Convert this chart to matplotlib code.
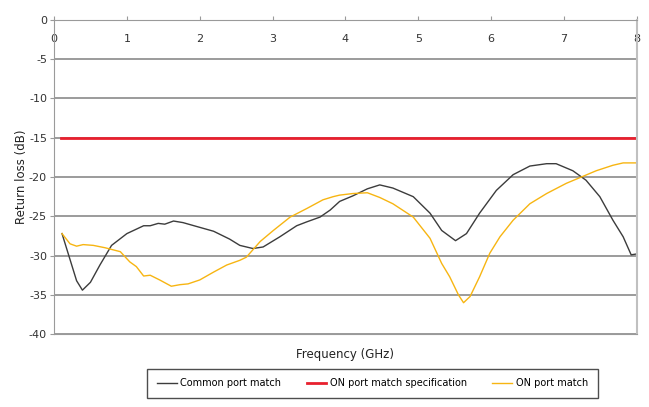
import numpy as np
import matplotlib
matplotlib.use('Agg')
import matplotlib.pyplot as plt

plt.rcParams['font.family'] = ['DejaVu Sans Condensed', 'Liberation Sans Narrow', 'DejaVu Sans']
plt.rcParams['axes.unicode_minus'] = False

# Common port match (GHz, dB)
com_f = [0.11, 0.22, 0.31, 0.39, 0.5, 0.63, 0.79, 1.0, 1.23, 1.32, 1.43, 1.52, 1.64,
         1.77, 1.96, 2.19, 2.41, 2.55, 2.73, 2.87, 3.1, 3.33, 3.47, 3.65, 3.79,
         3.92, 4.1, 4.3, 4.47, 4.65, 4.93, 5.16, 5.32, 5.51, 5.66, 5.84, 6.07,
         6.3, 6.53, 6.76, 6.89, 7.12, 7.3, 7.49, 7.67, 7.81, 7.92, 7.99]
com_db = [-27.2, -30.5, -33.2, -34.4, -33.4, -31.2, -28.7, -27.2, -26.2, -26.2, -25.9,
          -26.0, -25.6, -25.8, -26.3, -26.9, -27.9, -28.7, -29.1, -28.9, -27.6,
          -26.2, -25.7, -25.1, -24.2, -23.1, -22.4, -21.5, -21.0, -21.4, -22.5,
          -24.6, -26.8, -28.1, -27.2, -24.6, -21.7, -19.7, -18.6, -18.3, -18.3,
          -19.2, -20.4, -22.5, -25.5, -27.6, -29.9, -29.8]

# ON port match
on_f = [0.11, 0.22, 0.31, 0.4, 0.54, 0.7, 0.91, 1.04, 1.13, 1.23, 1.32, 1.45, 1.61,
        1.73, 1.84, 2.0, 2.19, 2.37, 2.55, 2.64, 2.83, 3.01, 3.24, 3.47, 3.69,
        3.83, 3.92, 4.1, 4.3, 4.47, 4.65, 4.93, 5.16, 5.32, 5.43, 5.55, 5.62,
        5.71, 5.84, 5.98, 6.12, 6.3, 6.53, 6.76, 7.03, 7.21, 7.44, 7.67, 7.81, 7.99]
on_db = [-27.2, -28.5, -28.8, -28.6, -28.7, -29.0, -29.5, -30.8, -31.4, -32.6, -32.5,
         -33.1, -33.9, -33.7, -33.6, -33.1, -32.1, -31.2, -30.6, -30.2, -28.2,
         -26.8, -25.1, -24.0, -22.9, -22.5, -22.3, -22.1, -22.0, -22.6, -23.4,
         -25.1, -27.8, -31.0, -32.7, -35.0, -36.0, -35.2, -32.7, -29.7, -27.6,
         -25.5, -23.4, -22.1, -20.8, -20.1, -19.2, -18.5, -18.2, -18.2]

spec_f = [0.1, 8.0]
spec_db = [-15.0, -15.0]

fig = plt.figure(figsize=(6.49, 4.07), dpi=100)
ax = fig.add_axes([0.0832, 0.179, 0.8983, 0.772])

ax.set_xlim(0, 8)
ax.set_ylim(-40, 0)
ax.set_yticks(np.arange(-40, 1, 5))
ax.set_xticks(np.arange(0, 9, 1))
ax.grid(axis='y', color='#8a8a8a', lw=1.2)
ax.set_axisbelow(True)

ax.plot(com_f, com_db, color='#3c3c3c', lw=1.0, label='Common port match')
ax.plot(spec_f, spec_db, color='#e8202e', lw=2.0, label='ON port match specification')
ax.plot(on_f, on_db, color='#f7b512', lw=1.0, label='ON port match')

for s in ['left', 'top', 'right', 'bottom']:
    ax.spines[s].set_color('#9a9a9a')
ax.spines['right'].set_color('#c0c0c0')
ax.spines['right'].set_linewidth(1.5)

ax.xaxis.set_ticks_position('top')
ax.tick_params(axis='x', direction='out', length=3, color='#9a9a9a', pad=-20,
               labelsize=8, labelcolor='#333333')
ax.tick_params(axis='y', direction='out', length=3, color='#9a9a9a', labelsize=8,
               labelcolor='#333333', pad=2)

ax.set_ylabel('Return loss (dB)', fontsize=8.5, color='#222222', labelpad=1)
ax.set_xlabel('Frequency (GHz)', fontsize=8.5, color='#222222', labelpad=10)

leg = fig.legend(loc='lower center', bbox_to_anchor=(0.574, 0.01), ncol=3,
                 fontsize=7, frameon=True, fancybox=False, edgecolor='#222222',
                 handlelength=2.0, handletextpad=0.4, columnspacing=2.6, borderpad=1.0)
leg.get_frame().set_linewidth(1.0)

plt.savefig('out.png')
plt.close()
